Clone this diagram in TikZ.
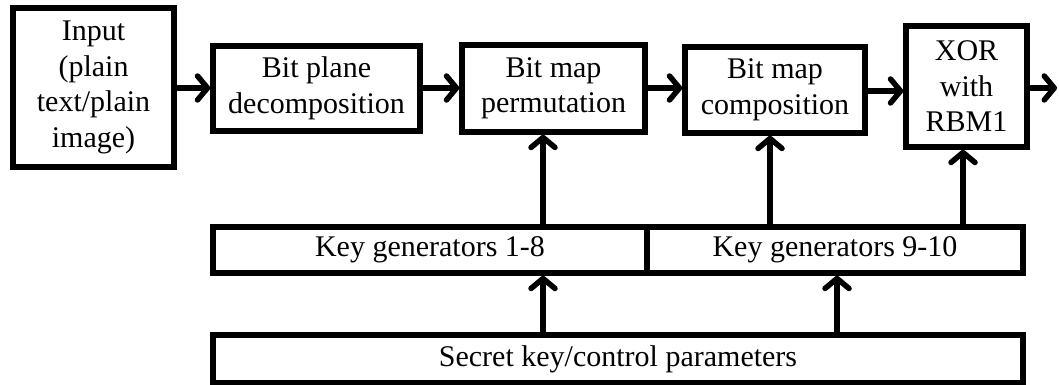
\documentclass[tikz,border=0pt]{standalone}
\usepackage{fontspec}
\setmainfont{Liberation Serif}
\usetikzlibrary{arrows.meta}
\begin{document}
\begin{tikzpicture}[x=1pt,y=-1pt,
  blk/.style={draw,line width=5.5pt,line join=miter,inner sep=0pt,align=center,
    font=\fontsize{30}{35.5}\selectfont},
  flow/.style={line width=5.5pt,-{Straight Barb[length=10pt,width=24pt,line width=5.5pt,round]}}]
  \useasboundingbox (0,0) rectangle (1059,385);
  % top row of processing stages
  \node[blk,minimum width=161pt,minimum height=159pt] (inp) at (93.5,87.5) {Input\\(plain\\text/plain\\image)};
  \node[blk,minimum width=207pt,minimum height=85pt] (bpd) at (316.5,88.5) {Bit plane\\decomposition};
  \node[blk,minimum width=183pt,minimum height=87pt] (perm) at (553.5,88.5) {Bit map\\permutation};
  \node[blk,minimum width=180pt,minimum height=86pt] (comp) at (775,90) {Bit map\\composition};
  \node[blk,minimum width=121pt,minimum height=121pt] (xor) at (966.5,86.5) {XOR\\with\\RBM1};
  \coordinate (out) at (1057,88);
  % key generators and secret key
  \node[blk,minimum width=434pt,minimum height=46pt] (kg1) at (430,250) {Key generators 1-8};
  \node[blk,minimum width=376pt,minimum height=46pt] (kg2) at (835,250) {Key generators 9-10};
  \node[blk,minimum width=810pt,minimum height=48pt] (sec) at (618,359) {Secret key/control parameters};
  % connectors
  \draw[flow] (inp.east |- 0,88) -- (bpd.west |- 0,88);
  \draw[flow] (bpd.east |- 0,88) -- (perm.west |- 0,88);
  \draw[flow] (perm.east |- 0,88) -- (comp.west |- 0,88);
  \draw[flow] (comp.east |- 0,91) -- (xor.west |- 0,91);
  \draw[flow] (xor.east |- 0,88) -- (out);
  \draw[flow] (kg1.north -| 543,0) -- (perm.south -| 543,0);
  \draw[flow] (kg2.north -| 770,0) -- (comp.south -| 770,0);
  \draw[flow] (kg2.north -| 963,0) -- (xor.south -| 963,0);
  \draw[flow] (sec.north -| 543,0) -- (kg1.south -| 543,0);
  \draw[flow] (sec.north -| 837,0) -- (kg2.south -| 837,0);
\end{tikzpicture}
\end{document}
